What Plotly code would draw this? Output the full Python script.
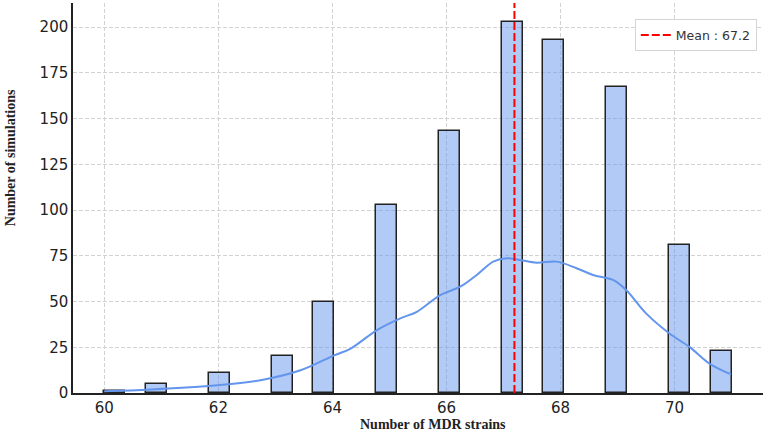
import numpy as np
import plotly.graph_objects as go

# ---- data ----
mdr_values = [60, 61, 62, 63, 64, 65, 66, 67, 68, 69, 70, 71]
sim_counts = [1, 5, 11, 20, 50, 103, 143, 203, 193, 167, 81, 23]
n_bins = 30

# KDE curve (as drawn in the reference, in count units)
kde_x = [60.0, 60.82, 61.98, 62.74, 63.44, 64.03, 64.32, 64.78, 65.19, 65.48,
         65.89, 66.24, 66.53, 66.82, 67.06, 67.29, 67.58, 67.93, 68.28, 68.57,
         68.92, 69.15, 69.5, 69.91, 70.26, 70.61, 70.99]
kde_y = [0.9, 1.9, 4.2, 7.0, 12.4, 20.6, 24.3, 34.4, 40.8, 44.4,
         53.5, 58.1, 64.5, 71.8, 73.6, 72.7, 71.2, 71.8, 68.2, 64.5,
         61.8, 56.3, 43.5, 32.5, 25.2, 16.1, 10.2]

x_ticks = [60, 62, 64, 66, 68, 70]
y_ticks = [0, 25, 50, 75, 100, 125, 150, 175, 200]

# ---- histogram binning (same as seaborn: 30 bins over the data range) ----
samples = np.repeat(mdr_values, sim_counts)
hist, edges = np.histogram(samples, bins=n_bins)
bw = edges[1] - edges[0]
centers = (edges[:-1] + edges[1:]) / 2
mask = hist > 0
mean_val = float(np.sum(np.array(mdr_values) * np.array(sim_counts)) / np.sum(sim_counts))

ymax = hist.max() * 1.05
xmin, xmax = min(mdr_values), max(mdr_values)
xpad = (xmax - xmin) * 0.05

fig = go.Figure()
fig.add_trace(go.Bar(
    x=centers[mask], y=hist[mask], width=bw,
    marker=dict(color="rgba(100,149,237,0.5)", line=dict(color="#222222", width=1.5)),
    showlegend=False, hoverinfo="x+y",
))
fig.add_trace(go.Scatter(
    x=kde_x, y=kde_y, mode="lines", line=dict(color="#6495ED", width=2, shape="spline"),
    showlegend=False,
))
fig.add_trace(go.Scatter(
    x=[mean_val, mean_val], y=[0, ymax * 1.2], mode="lines",
    line=dict(color="#ff0000", width=2, dash="8px,3px"),
    name=f"Mean : {mean_val:.1f}", showlegend=True,
))

grid_common = dict(
    showgrid=True, gridcolor="#d2d2d2", griddash="4px,2px", gridwidth=0.8,
    zeroline=False, ticks="", showline=True, linecolor="#222222", linewidth=1.5,
    tickfont=dict(size=15, color="#222222"),
)

fig.update_layout(
    width=767, height=432,
    margin=dict(l=73, r=4, t=3, b=39),
    paper_bgcolor="white", plot_bgcolor="white",
    font=dict(family="DejaVu Sans", color="#222222"),
    bargap=0,
    legend=dict(
        x=0.991, y=0.958, xanchor="right", yanchor="top",
        bgcolor="white", bordercolor="#d5d5d5", borderwidth=1,
        font=dict(size=12.5, family="DejaVu Sans", color="#333333"),
        tracegroupgap=0,
    ),
    xaxis=dict(range=[xmin - xpad, xmax + xpad], tickvals=x_ticks, **grid_common),
    yaxis=dict(range=[0, ymax], tickvals=y_ticks, **grid_common),
    annotations=[
        dict(text="<b>Number of MDR strains</b>", xref="paper", yref="paper",
             x=0.522, y=-0.080, xanchor="center", yanchor="middle", showarrow=False,
             font=dict(family="Liberation Serif", size=14, color="#222222")),
        dict(text="<b>Number of simulations</b>", xref="paper", yref="paper",
             x=-0.0913, y=0.602, xanchor="center", yanchor="middle", showarrow=False,
             textangle=-90,
             font=dict(family="Liberation Serif", size=14, color="#222222")),
    ],
)

fig.write_html("out.html")
